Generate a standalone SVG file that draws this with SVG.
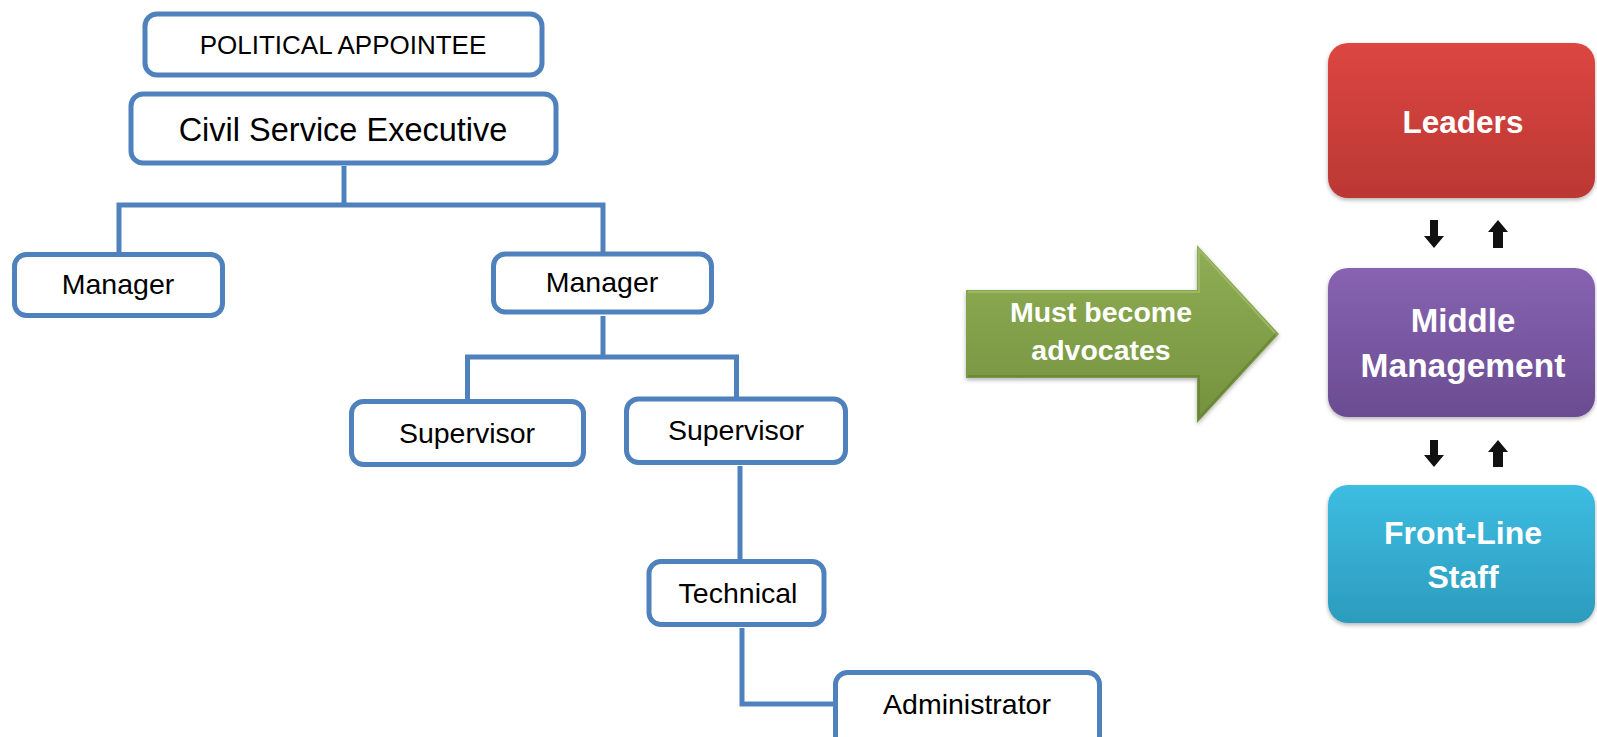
<svg xmlns="http://www.w3.org/2000/svg" width="1597" height="737" viewBox="0 0 1597 737">
<defs>
<style>
.box{fill:#fff;stroke:#4f81bd;stroke-width:5}
.lbl{font-family:"Liberation Sans",Arial,sans-serif;font-size:28.5px;fill:#000;text-anchor:middle}
.wl{font-family:"Liberation Sans",Arial,sans-serif;font-weight:bold;font-size:33px;fill:#fff;text-anchor:middle}
.conn{fill:none;stroke:#4f81bd;stroke-width:5;stroke-linejoin:miter}
.blk{fill:#111}
</style>
<linearGradient id="gRed" x1="0" y1="0" x2="0" y2="1"><stop offset="0" stop-color="#dc4641"/><stop offset="1" stop-color="#bb3833"/></linearGradient>
<linearGradient id="gPur" x1="0" y1="0" x2="0" y2="1"><stop offset="0" stop-color="#8763b2"/><stop offset="1" stop-color="#6a4c91"/></linearGradient>
<linearGradient id="gCy" x1="0" y1="0" x2="0" y2="1"><stop offset="0" stop-color="#3dbde2"/><stop offset="1" stop-color="#2c9cbd"/></linearGradient>
<linearGradient id="gGr" x1="0" y1="0" x2="0" y2="1"><stop offset="0" stop-color="#8fad55"/><stop offset="0.5" stop-color="#82a049"/><stop offset="1" stop-color="#74923e"/></linearGradient>
<filter id="sh" x="-10%" y="-10%" width="120%" height="130%"><feDropShadow dx="0" dy="2" stdDeviation="2" flood-color="#000" flood-opacity="0.3"/></filter>
</defs>
<rect width="1597" height="737" fill="#fff"/>

<g id="connectors">
<path class="conn" d="M344,166 V205 M119,254 V205 H603 V253"/>
<path class="conn" d="M603,316 V357 M467.5,401 V357 H736.5 V398"/>
<path class="conn" d="M740,466 V560"/>
<path class="conn" d="M742,628 V704 H834"/>
</g>

<g id="political">
<rect class="box" x="145" y="14" width="397" height="61" rx="12"/>
<text class="lbl" x="343" y="54" style="font-size:26px">POLITICAL APPOINTEE</text>
</g>
<g id="civil">
<rect class="box" x="131" y="94" width="425" height="69" rx="12"/>
<text class="lbl" x="343" y="141" style="font-size:32.5px">Civil Service Executive</text>
</g>
<g id="manager1">
<rect class="box" x="14.5" y="254.5" width="208" height="61" rx="12"/>
<text class="lbl" x="118" y="294">Manager</text>
</g>
<g id="manager2">
<rect class="box" x="493.5" y="254" width="218" height="58" rx="12"/>
<text class="lbl" x="602" y="292">Manager</text>
</g>
<g id="supervisor1">
<rect class="box" x="351.5" y="401.5" width="232" height="63" rx="12"/>
<text class="lbl" x="467" y="443">Supervisor</text>
</g>
<g id="supervisor2">
<rect class="box" x="626.5" y="399" width="219" height="63.5" rx="12"/>
<text class="lbl" x="736" y="440">Supervisor</text>
</g>
<g id="technical">
<rect class="box" x="649" y="561.5" width="175" height="63" rx="12"/>
<text class="lbl" x="738" y="603">Technical</text>
</g>
<g id="administrator">
<rect class="box" x="835.5" y="672.5" width="264" height="80" rx="12"/>
<text class="lbl" x="967" y="714">Administrator</text>
</g>

<g id="advocate-arrow">
<polygon points="966,290 1197,290 1197,245 1279,334 1197,423 1197,378 966,378" fill="url(#gGr)" filter="url(#sh)"/>
<polyline points="968,292 1199,292 1199,250 1275,333" fill="none" stroke="#a3bf6c" stroke-width="2" opacity="0.7"/>
<polyline points="1275,335 1199,418 1199,376 968,376" fill="none" stroke="#647f33" stroke-width="2" opacity="0.7"/>
<text class="wl" x="1101" y="322" style="font-size:28.5px">Must become</text>
<text class="wl" x="1101" y="360" style="font-size:28.5px">advocates</text>
</g>

<g id="leaders">
<rect x="1328" y="43" width="267" height="155" rx="20" fill="url(#gRed)" filter="url(#sh)"/>
<text class="wl" x="1463" y="133" style="font-size:31.5px">Leaders</text>
</g>
<g id="middle">
<rect x="1328" y="268" width="267" height="149" rx="20" fill="url(#gPur)" filter="url(#sh)"/>
<text class="wl" x="1463" y="332">Middle</text>
<text class="wl" x="1463" y="377" style="font-size:33.5px">Management</text>
</g>
<g id="frontline">
<rect x="1328" y="485" width="267" height="138" rx="20" fill="url(#gCy)" filter="url(#sh)"/>
<text class="wl" x="1463" y="544" style="font-size:32px">Front-Line</text>
<text class="wl" x="1463" y="588" style="font-size:32px">Staff</text>
</g>

<g id="flow-arrows">
<polygon class="blk" points="1430,220 1438,220 1438,236 1444,236 1434,248 1424,236 1430,236"/>
<polygon class="blk" points="1493,248 1503,248 1503,232 1508,232 1498,220 1488,232 1493,232"/>
<polygon class="blk" points="1430,440 1438,440 1438,455 1444,455 1434,467 1424,455 1430,455"/>
<polygon class="blk" points="1493,467 1503,467 1503,452 1508,452 1498,440 1488,452 1493,452"/>
</g>
</svg>
